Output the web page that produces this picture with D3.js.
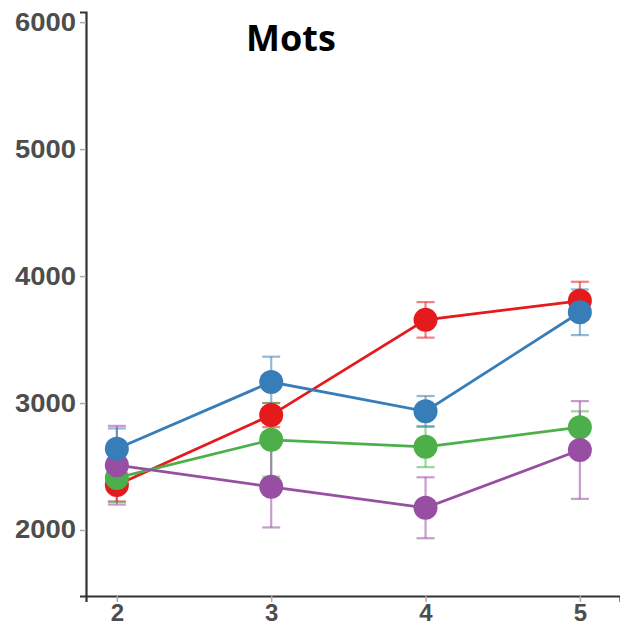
<!DOCTYPE html>
<html>
<head>
<meta charset="utf-8">
<script src="https://cdn.jsdelivr.net/npm/d3@7"></script>
<style>
  html, body { margin: 0; padding: 0; background: #fff; }
  svg { display: block; }
</style>
</head>
<body>
<svg id="chart" width="620" height="627"></svg>
<script>
// Condition levels on the x axis
const levels = [2, 3, 4, 5];
const yTicks = [2000, 3000, 4000, 5000, 6000];

// Mean values per group
const redMeans    = [2355, 2905, 3655, 3805];
const blueMeans   = [2640, 3165, 2935, 3715];
const greenMeans  = [2410, 2710, 2655, 2810];
const purpleMeans = [2510, 2340, 2175, 2630];

// Error half-widths per group
const redErr    = [130, 95, 140, 150];
const blueErr   = [160, 200, 120, 180];
const greenErr  = [190, 290, 160, 125];
const purpleErr = [310, 320, 240, 385];

const series = [
  { name: "red",    color: "#e41a1c", means: redMeans,    err: redErr },
  { name: "green",  color: "#4daf4a", means: greenMeans,  err: greenErr },
  { name: "purple", color: "#984ea3", means: purpleMeans, err: purpleErr },
  { name: "blue",   color: "#377eb8", means: blueMeans,   err: blueErr }
];

const svg = d3.select("#chart");

const x = d3.scaleLinear().domain([1.8, 5.26]).range([86, 620]);
const y = d3.scaleLinear().domain([1480, 6080]).range([596, 12]);

// Axes
const yAxis = svg.append("g")
  .attr("transform", "translate(86,0)")
  .call(d3.axisLeft(y).tickValues(yTicks).tickSize(6).tickPadding(4).tickFormat(d3.format("d")));
const xAxis = svg.append("g")
  .attr("transform", "translate(0,596)")
  .call(d3.axisBottom(x).tickValues(levels).tickSize(6).tickPadding(2).tickFormat(d3.format("d")));

[yAxis, xAxis].forEach(g => {
  g.select(".domain").attr("stroke", "#333").attr("stroke-width", 2.2);
  g.selectAll(".tick line").attr("stroke", "#aaa").attr("stroke-width", 1.5);
  g.selectAll(".tick text")
    .attr("fill", "#4d4d4d")
    .style("font-family", "'Liberation Sans', Arial, sans-serif")
    .style("font-weight", "bold")
    .style("font-size", "25px");
});
xAxis.selectAll(".tick text").style("font-size", "24px");
yAxis.selectAll(".tick text").attr("textLength", 61).attr("lengthAdjust", "spacingAndGlyphs");

// Error bars
series.forEach(s => {
  const g = svg.append("g").attr("stroke", s.color).attr("stroke-opacity", 0.55).attr("stroke-width", 2.2);
  levels.forEach((lv, i) => {
    const lo = y(s.means[i] - s.err[i]), hi = y(s.means[i] + s.err[i]);
    const cx = x(lv);
    g.append("line").attr("x1", cx).attr("x2", cx).attr("y1", lo).attr("y2", hi);
    g.append("line").attr("x1", cx - 9).attr("x2", cx + 9).attr("y1", lo).attr("y2", lo);
    g.append("line").attr("x1", cx - 9).attr("x2", cx + 9).attr("y1", hi).attr("y2", hi);
  });
});

// Lines and points
const line = d3.line().x((d, i) => x(levels[i])).y(d => y(d));
series.forEach(s => {
  svg.append("path")
    .attr("d", line(s.means))
    .attr("fill", "none")
    .attr("stroke", s.color)
    .attr("stroke-width", 2.8);
  svg.append("g").selectAll("circle")
    .data(s.means)
    .join("circle")
    .attr("cx", (d, i) => x(levels[i]))
    .attr("cy", d => y(d))
    .attr("r", 12)
    .attr("fill", s.color);
});

// Title
svg.append("text")
  .attr("x", 291)
  .attr("y", 51)
  .attr("text-anchor", "middle")
  .attr("fill", "#000")
  .style("font-family", "'Open Sans', 'Liberation Sans', sans-serif")
  .style("font-weight", "bold")
  .style("font-size", "36px")
  .text("Mots");
</script>
</body>
</html>
